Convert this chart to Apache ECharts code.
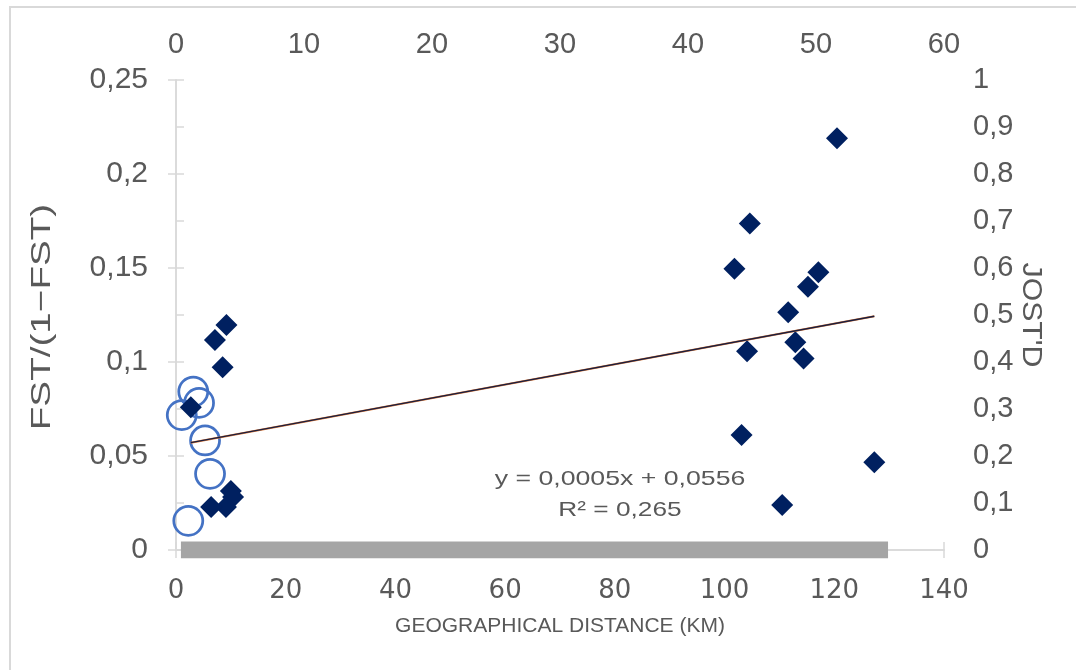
<!DOCTYPE html>
<html>
<head>
<meta charset="utf-8">
<title>FST/(1−FST) and Jost's D vs geographical distance</title>
<script src="https://cdn.jsdelivr.net/npm/echarts/dist/echarts.min.js"></script>
<style>
  html, body { margin: 0; padding: 0; background: #ffffff; }
  #chart { width: 1076px; height: 670px; }
</style>
</head>
<body>
<div id="chart"></div>
<script>
// Pairwise FST/(1−FST) against geographical distance (km): bottom and left axes
const fstDistance = [9.2, 7.1, 8.5, 2.7, 10.0, 10.4, 9.1, 6.4,
                     120.5, 104.6, 101.8, 117.1, 115.2, 111.6, 104.1, 112.9, 114.4, 103.1, 127.3, 110.5];
const fstValue    = [0.1197, 0.1117, 0.0972, 0.0759, 0.0314, 0.0282, 0.0229, 0.0229,
                     0.219, 0.1737, 0.1496, 0.1477, 0.140, 0.1264, 0.1057, 0.1105, 0.1019, 0.0612, 0.0467, 0.0239];

// Jost's D against geographical distance: top and right axes
const jostDistance = [1.35, 1.80, 0.45, 2.27, 2.66, 0.96];
const jostValue    = [0.337, 0.313, 0.287, 0.233, 0.162, 0.062];

// Grey band lying on the zero line of the distance axis
const bandX = [0.9, 129.8];
const bandY = [0, 0];

// Linear trend of FST/(1−FST) on distance
const trendSlope = 0.00054;
const trendIntercept = 0.0556;
const trendR2 = 0.265;

// Axis ranges and tick steps
const bottomTicks = { min: 0, max: 140, interval: 20 };
const topTicks    = { min: 0, max: 60,  interval: 10 };
const leftTicks   = { min: 0, max: 0.25, interval: 0.05 };
const rightTicks  = { min: 0, max: 1,   interval: 0.1 };

const comma = v => String(parseFloat(v.toFixed(3))).replace('.', ',');

const diamonds = fstDistance.map((x, i) => [x, fstValue[i]]);
const circles = jostDistance.map((x, i) => [x, jostValue[i]]);
const band = bandX.map((x, i) => [x, bandY[i]]);
const trendX = [Math.min(...fstDistance), Math.max(...fstDistance)];
const trend = trendX.map(x => [x, trendIntercept + trendSlope * x]);
const eqText1 = 'y = ' + trendSlope.toFixed(4).replace('.', ',') + 'x + ' + trendIntercept.toFixed(4).replace('.', ',');
const eqText2 = 'R² = ' + trendR2.toFixed(3).replace('.', ',');

const textGrey = '#595959';
const lineGrey = '#d9d9d9';
const sans = 'Liberation Sans, Arial, sans-serif';

const axisCommon = {
  axisLine: { show: true, lineStyle: { color: lineGrey, width: 1.5 } },
  axisTick: { show: true, inside: false, length: 8, lineStyle: { color: lineGrey, width: 1.5 } },
  splitLine: { show: false }
};

const chart = echarts.init(document.getElementById('chart'), null, { renderer: 'canvas' });

chart.setOption({
  animation: false,
  backgroundColor: '#ffffff',
  grid: { left: 176, right: 132, top: 80, bottom: 120, containLabel: false },
  xAxis: [
    Object.assign({
      type: 'value', position: 'bottom',
      min: bottomTicks.min, max: bottomTicks.max, interval: bottomTicks.interval,
      name: 'GEOGRAPHICAL DISTANCE (KM)', nameLocation: 'middle', nameGap: 66,
      nameTextStyle: { color: textGrey, fontSize: 21, fontFamily: sans },
      axisLabel: { color: textGrey, fontSize: 26, margin: 28, fontFamily: 'DejaVu Sans, sans-serif' }
    }, axisCommon),
    Object.assign({
      type: 'value', position: 'top',
      min: topTicks.min, max: topTicks.max, interval: topTicks.interval,
      axisLabel: { color: textGrey, fontSize: 29, margin: 21, fontFamily: sans }
    }, axisCommon)
  ],
  yAxis: [
    Object.assign({
      type: 'value', position: 'left',
      min: leftTicks.min, max: leftTicks.max, interval: leftTicks.interval,
      axisLabel: { color: textGrey, fontSize: 30, margin: 28, formatter: comma, fontFamily: sans }
    }, axisCommon),
    Object.assign({
      type: 'value', position: 'right',
      min: rightTicks.min, max: rightTicks.max, interval: rightTicks.interval,
      axisLabel: { color: textGrey, fontSize: 29, margin: 29, formatter: comma, fontFamily: sans }
    }, axisCommon)
  ],
  graphic: [
    { type: 'rect', z: -10, silent: true,
      shape: { x: 10, y: 7, width: 1100, height: 700 },
      style: { fill: 'none', stroke: lineGrey, lineWidth: 2 } },
    // Axis titles for the left and right value axes
    { type: 'text', x: 42, y: 317, rotation: Math.PI / 2, scaleX: 1.38, silent: true,
      style: { text: 'FST/(1−FST)', fill: textGrey, fontSize: 28, fontFamily: sans,
               align: 'center', verticalAlign: 'middle' } },
    { type: 'text', x: 1031, y: 315, rotation: -Math.PI / 2, scaleX: 1.08, silent: true,
      style: { text: "JOST'D", fill: textGrey, fontSize: 28, fontFamily: sans,
               align: 'center', verticalAlign: 'middle' } },
    // Trend equation
    { type: 'text', x: 620, y: 479, scaleX: 1.27, silent: true,
      style: { text: eqText1, fill: textGrey, fontSize: 21, fontFamily: sans,
               align: 'center', verticalAlign: 'middle' } },
    { type: 'text', x: 620, y: 510, scaleX: 1.25, silent: true,
      style: { text: eqText2, fill: textGrey, fontSize: 21, fontFamily: sans,
               align: 'center', verticalAlign: 'middle' } }
  ],
  series: [
    {
      name: 'band', type: 'line', xAxisIndex: 0, yAxisIndex: 0, data: band,
      showSymbol: false, silent: true, z: 1,
      lineStyle: { color: '#a5a5a5', width: 17, cap: 'butt' }
    },
    {
      name: "Jost's D", type: 'scatter', xAxisIndex: 1, yAxisIndex: 1, data: circles,
      symbol: 'circle', symbolSize: 29, z: 2,
      itemStyle: { color: 'rgba(255,255,255,0)', borderColor: '#4472c4', borderWidth: 2.75, opacity: 1 }
    },
    {
      name: 'FST/(1−FST)', type: 'scatter', xAxisIndex: 0, yAxisIndex: 0, data: diamonds,
      symbol: 'diamond', symbolSize: 22, z: 3,
      itemStyle: { color: '#002060', opacity: 1 }
    },
    {
      name: 'trend shadow', type: 'line', xAxisIndex: 0, yAxisIndex: 0, data: trend,
      showSymbol: false, silent: true, z: 4,
      lineStyle: { color: '#e07b39', width: 2.2 }
    },
    {
      name: 'trend', type: 'line', xAxisIndex: 0, yAxisIndex: 0, data: trend,
      showSymbol: false, silent: true, z: 5,
      lineStyle: { color: '#1b1f3f', width: 1.3 }
    }
  ]
});
</script>
</body>
</html>
